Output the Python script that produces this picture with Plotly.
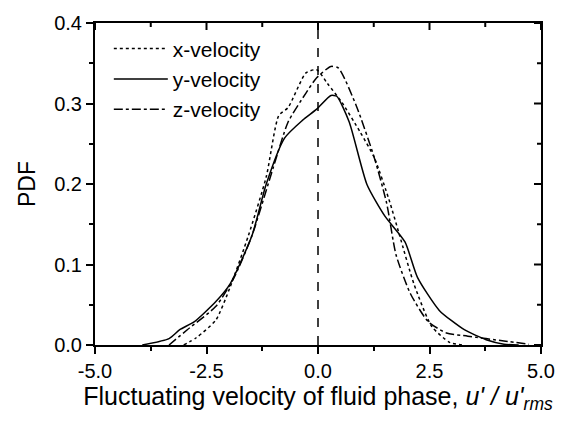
import plotly.graph_objects as go

x_vel_x = [-3.01, -2.73, -2.29, -1.97, -1.56, -1.16, -0.88, -0.67, -0.27, -0.03, 0.21, 0.54, 0.94, 1.26, 1.59, 1.83, 2.15, 2.55, 2.96, 3.28]
x_vel_y = [0.0, 0.009, 0.031, 0.072, 0.136, 0.209, 0.285, 0.295, 0.338, 0.342, 0.325, 0.301, 0.265, 0.233, 0.181, 0.136, 0.076, 0.023, 0.003, 0.0]

y_vel_x = [-3.94, -3.34, -3.10, -2.77, -2.29, -1.97, -1.48, -1.16, -0.75, -0.35, -0.03, 0.29, 0.42, 0.70, 1.10, 1.50, 1.95, 2.23, 2.72, 3.28, 3.77, 4.17, 4.5]
y_vel_y = [0.0, 0.008, 0.019, 0.029, 0.054, 0.076, 0.136, 0.200, 0.257, 0.279, 0.293, 0.310, 0.309, 0.277, 0.199, 0.160, 0.128, 0.084, 0.043, 0.019, 0.0065, 0.001, 0.0]

z_vel_x = [-3.34, -2.93, -2.29, -1.88, -1.48, -1.00, -0.67, -0.27, -0.03, 0.29, 0.46, 0.86, 1.26, 1.54, 1.75, 2.07, 2.47, 2.88, 3.36, 4.17, 4.73]
z_vel_y = [0.0, 0.019, 0.048, 0.084, 0.136, 0.221, 0.277, 0.313, 0.332, 0.346, 0.344, 0.297, 0.233, 0.176, 0.112, 0.064, 0.029, 0.015, 0.011, 0.005, 0.001]

x_tickvals = [-5.0, -2.5, 0.0, 2.5, 5.0]
x_ticktext = ["-5.0", "-2.5", "0.0", "2.5", "5.0"]
x_minorvals = [-3.75, -1.25, 1.25, 3.75]
y_tickvals = [0.0, 0.1, 0.2, 0.3, 0.4]
y_ticktext = ["0.0", "0.1", "0.2", "0.3", "0.4"]
y_minorvals = [0.05, 0.15, 0.25, 0.35]

series = [
    ("x-velocity", x_vel_x, x_vel_y, "dot"),
    ("y-velocity", y_vel_x, y_vel_y, "solid"),
    ("z-velocity", z_vel_x, z_vel_y, "dashdot"),
]

fig = go.Figure()
for name, xs, ys, dash in series:
    fig.add_trace(go.Scatter(x=xs, y=ys, name=name, mode="lines",
                             line=dict(color="black", width=1.5, dash=dash, shape="spline", smoothing=0.6)))

# vertical reference line at zero
fig.add_shape(type="line", x0=0, x1=0, xref="x", y0=0, y1=1, yref="paper",
              line=dict(color="black", width=1.5, dash="dash"))

# Origin-style ticks on the top and right frame (pointing into the plot)
tick_line = dict(color="black", width=2)
for vals, length in ((x_tickvals, 7), (x_minorvals, 4)):
    for v in vals:
        fig.add_shape(type="line", xref="x", x0=v, x1=v,
                      yref="paper", ysizemode="pixel", yanchor=1, y0=0, y1=-length,
                      line=tick_line)
for vals, length in ((y_tickvals, 7), (y_minorvals, 4)):
    for v in vals:
        fig.add_shape(type="line", yref="y", y0=v, y1=v,
                      xref="paper", xsizemode="pixel", xanchor=1, x0=0, x1=-length,
                      line=tick_line)

font_family = "Liberation Sans, Arial, sans-serif"
base = dict(showline=True, mirror=True, linecolor="black", linewidth=2, tickwidth=2, tickcolor="black",
            showgrid=False, zeroline=False,
            tickfont=dict(size=20, color="black", family=font_family))

fig.update_layout(
    width=567, height=421,
    margin=dict(l=95, r=24, t=17, b=76),
    plot_bgcolor="white", paper_bgcolor="white",
    font=dict(family=font_family, color="black"),
    showlegend=True,
    xaxis=dict(range=[-5, 5], tickmode="array", tickvals=x_tickvals, ticktext=x_ticktext,
               ticks="outside", ticklen=7,
               minor=dict(tickmode="array", tickvals=x_minorvals, ticks="outside", ticklen=4,
                          tickwidth=2, tickcolor="black"),
               title=dict(text="Fluctuating velocity of fluid phase, <i>u' / u'</i><sub><i>rms</i></sub>",
                          font=dict(size=25, color="black", family=font_family), standoff=4),
               **base),
    yaxis=dict(range=[0, 0.4], tickmode="array", tickvals=y_tickvals, ticktext=y_ticktext,
               ticks="outside", ticklen=7,
               minor=dict(tickmode="array", tickvals=y_minorvals, ticks="outside", ticklen=4,
                          tickwidth=2, tickcolor="black"),
               title=dict(text="PDF", font=dict(size=23, color="black", family=font_family), standoff=12),
               **base),
    legend=dict(x=0.031, y=0.983, xanchor="left", yanchor="top", bgcolor="rgba(0,0,0,0)",
                font=dict(size=21, color="black", family=font_family),
                tracegroupgap=0, itemwidth=54),
)

fig.write_html("out.html")
